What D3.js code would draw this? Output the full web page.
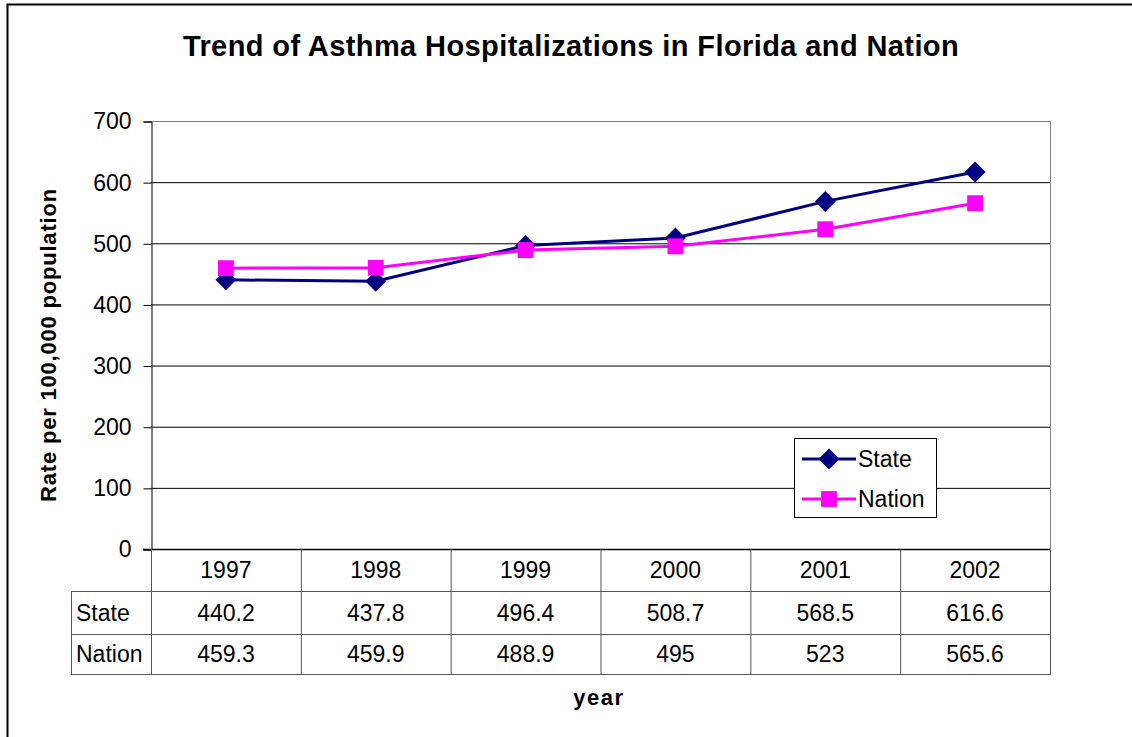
<!DOCTYPE html>
<html>
<head>
<meta charset="utf-8">
<script src="https://cdn.jsdelivr.net/npm/d3@7"></script>
<style>
body { margin: 0; background: #fff; }
text { font-family: Arial, "Liberation Sans", sans-serif; }
</style>
</head>
<body>
<div id="chart"></div>
<script>
var years = ["1997", "1998", "1999", "2000", "2001", "2002"];
var stateVals = [440.2, 437.8, 496.4, 508.7, 568.5, 616.6];
var nationVals = [459.3, 459.9, 488.9, 495, 523, 565.6];
var yTicks = [0, 100, 200, 300, 400, 500, 600, 700];

var series = [
    {name: "State", values: stateVals, color: "#000080", shape: "diamond"},
    {name: "Nation", values: nationVals, color: "#FF00FF", shape: "square"}
];

var width = 1132, height = 737;
var plot = {left: 151, right: 1050, top: 121, bottom: 549};
var rowH = [42, 43, 40];
var fs = "23px";

var svg = d3.select("#chart").append("svg")
    .attr("width", width)
    .attr("height", height);

// outer frame
svg.append("rect")
    .attr("x", 7.5).attr("y", 4.5)
    .attr("width", 1140).attr("height", 740)
    .attr("fill", "none").attr("stroke", "#000").attr("stroke-width", 2);

var x = d3.scaleBand().domain(years).range([plot.left, plot.right]);
var y = d3.scaleLinear().domain([0, 700]).range([plot.bottom, plot.top]);

// gridlines
svg.append("g").selectAll("line")
    .data(yTicks.filter(function(d) { return d > 0 && d < 700; }))
    .enter().append("line")
    .attr("x1", plot.left).attr("x2", plot.right)
    .attr("y1", function(d) { return y(d) + 0.5; })
    .attr("y2", function(d) { return y(d) + 0.5; })
    .attr("stroke", "#000").attr("stroke-width", 1);

// plot border top/right
svg.append("path")
    .attr("d", "M" + plot.left + "," + (plot.top + 0.5) + "H" + (plot.right + 0.5) + "V" + plot.bottom)
    .attr("fill", "none").attr("stroke", "#808080").attr("stroke-width", 1);

// y axis
var yAxis = d3.axisLeft(y).tickValues(yTicks).tickSize(8).tickPadding(12);
var gy = svg.append("g")
    .attr("transform", "translate(" + (plot.left + 0.5) + ",0.5)")
    .call(yAxis);
gy.select(".domain").attr("stroke", "#000");
gy.selectAll(".tick line").attr("stroke", "#000");
gy.selectAll(".tick text")
    .style("font-size", fs).attr("fill", "#000")
    .style("font-family", "Arial, 'Liberation Sans', sans-serif");

// bottom axis line
svg.append("line")
    .attr("x1", plot.left - 8).attr("x2", plot.right + 1)
    .attr("y1", plot.bottom + 0.5).attr("y2", plot.bottom + 0.5)
    .attr("stroke", "#000").attr("stroke-width", 1.5);

// data table
var tbl = svg.append("g");
var rowTop = [plot.bottom, plot.bottom + rowH[0], plot.bottom + rowH[0] + rowH[1]];
var tableBottom = rowTop[2] + rowH[2];
var labelLeft = 71;

[rowTop[1], rowTop[2], tableBottom].forEach(function(yy) {
    tbl.append("line")
        .attr("x1", labelLeft).attr("x2", plot.right + 1)
        .attr("y1", yy + 0.5).attr("y2", yy + 0.5)
        .attr("stroke", "#555").attr("stroke-width", 1);
});
years.forEach(function(d) {
    tbl.append("line")
        .attr("x1", x(d) + 0.5).attr("x2", x(d) + 0.5)
        .attr("y1", plot.bottom).attr("y2", tableBottom)
        .attr("stroke", "#555");
});
tbl.append("line")
    .attr("x1", plot.right + 0.5).attr("x2", plot.right + 0.5)
    .attr("y1", plot.bottom).attr("y2", tableBottom)
    .attr("stroke", "#555");
tbl.append("line")
    .attr("x1", labelLeft + 0.5).attr("x2", labelLeft + 0.5)
    .attr("y1", rowTop[1]).attr("y2", tableBottom)
    .attr("stroke", "#555");

tbl.selectAll(".yr").data(years).enter().append("text")
    .attr("x", function(d) { return x(d) + x.bandwidth() / 2; })
    .attr("y", rowTop[0] + rowH[0] / 2 + 8)
    .attr("text-anchor", "middle")
    .style("font-size", fs)
    .text(function(d) { return d; });

series.forEach(function(s, i) {
    var ry = rowTop[i + 1] + rowH[i + 1] / 2 + 8;
    tbl.append("text")
        .attr("x", labelLeft + 5).attr("y", ry)
        .style("font-size", fs)
        .text(s.name);
    tbl.selectAll(".v" + i).data(s.values).enter().append("text")
        .attr("x", function(d, j) { return x(years[j]) + x.bandwidth() / 2; })
        .attr("y", ry)
        .attr("text-anchor", "middle")
        .style("font-size", fs)
        .text(function(d) { return d; });
});

// lines and markers
var line = d3.line()
    .x(function(d, j) { return x(years[j]) + x.bandwidth() / 2; })
    .y(function(d) { return y(d); });

var diamond = d3.symbol().type(d3.symbolDiamond2).size(280);
var square = d3.symbol().type(d3.symbolSquare2).size(320);

series.forEach(function(s) {
    svg.append("path")
        .datum(s.values)
        .attr("d", line)
        .attr("fill", "none")
        .attr("stroke", s.color)
        .attr("stroke-width", 3);
});
series.forEach(function(s) {
    svg.selectAll(".m" + s.name).data(s.values).enter().append("path")
        .attr("transform", function(d, j) {
            return "translate(" + (x(years[j]) + x.bandwidth() / 2) + "," + y(d) + ")";
        })
        .attr("d", s.shape === "diamond" ? diamond : square)
        .attr("fill", s.color);
});

// legend
var lg = svg.append("g").attr("transform", "translate(794,438)");
lg.append("rect")
    .attr("x", 0.5).attr("y", 0.5)
    .attr("width", 142).attr("height", 79)
    .attr("fill", "#fff").attr("stroke", "#000");
series.forEach(function(s, i) {
    var ly = 21 + i * 40;
    lg.append("line")
        .attr("x1", 8).attr("x2", 62)
        .attr("y1", ly).attr("y2", ly)
        .attr("stroke", s.color).attr("stroke-width", 3);
    lg.append("path")
        .attr("transform", "translate(35," + ly + ")")
        .attr("d", s.shape === "diamond" ? diamond : square)
        .attr("fill", s.color);
    lg.append("text")
        .attr("x", 64).attr("y", ly + 8)
        .style("font-size", "23px")
        .text(s.name);
});

// title and axis labels
svg.append("text")
    .attr("x", 571).attr("y", 56)
    .attr("text-anchor", "middle")
    .style("font-size", "29px").style("font-weight", "bold")
    .style("letter-spacing", "0.4px")
    .text("Trend of Asthma Hospitalizations in Florida and Nation");

svg.append("text")
    .attr("transform", "translate(56,345) rotate(-90)")
    .attr("text-anchor", "middle")
    .style("font-size", "22px").style("font-weight", "bold")
    .style("letter-spacing", "0.8px")
    .text("Rate per 100,000 population");

svg.append("text")
    .attr("x", 599).attr("y", 705)
    .attr("text-anchor", "middle")
    .style("font-size", "22px").style("font-weight", "bold")
    .style("letter-spacing", "1.5px")
    .text("year");
</script>
</body>
</html>
